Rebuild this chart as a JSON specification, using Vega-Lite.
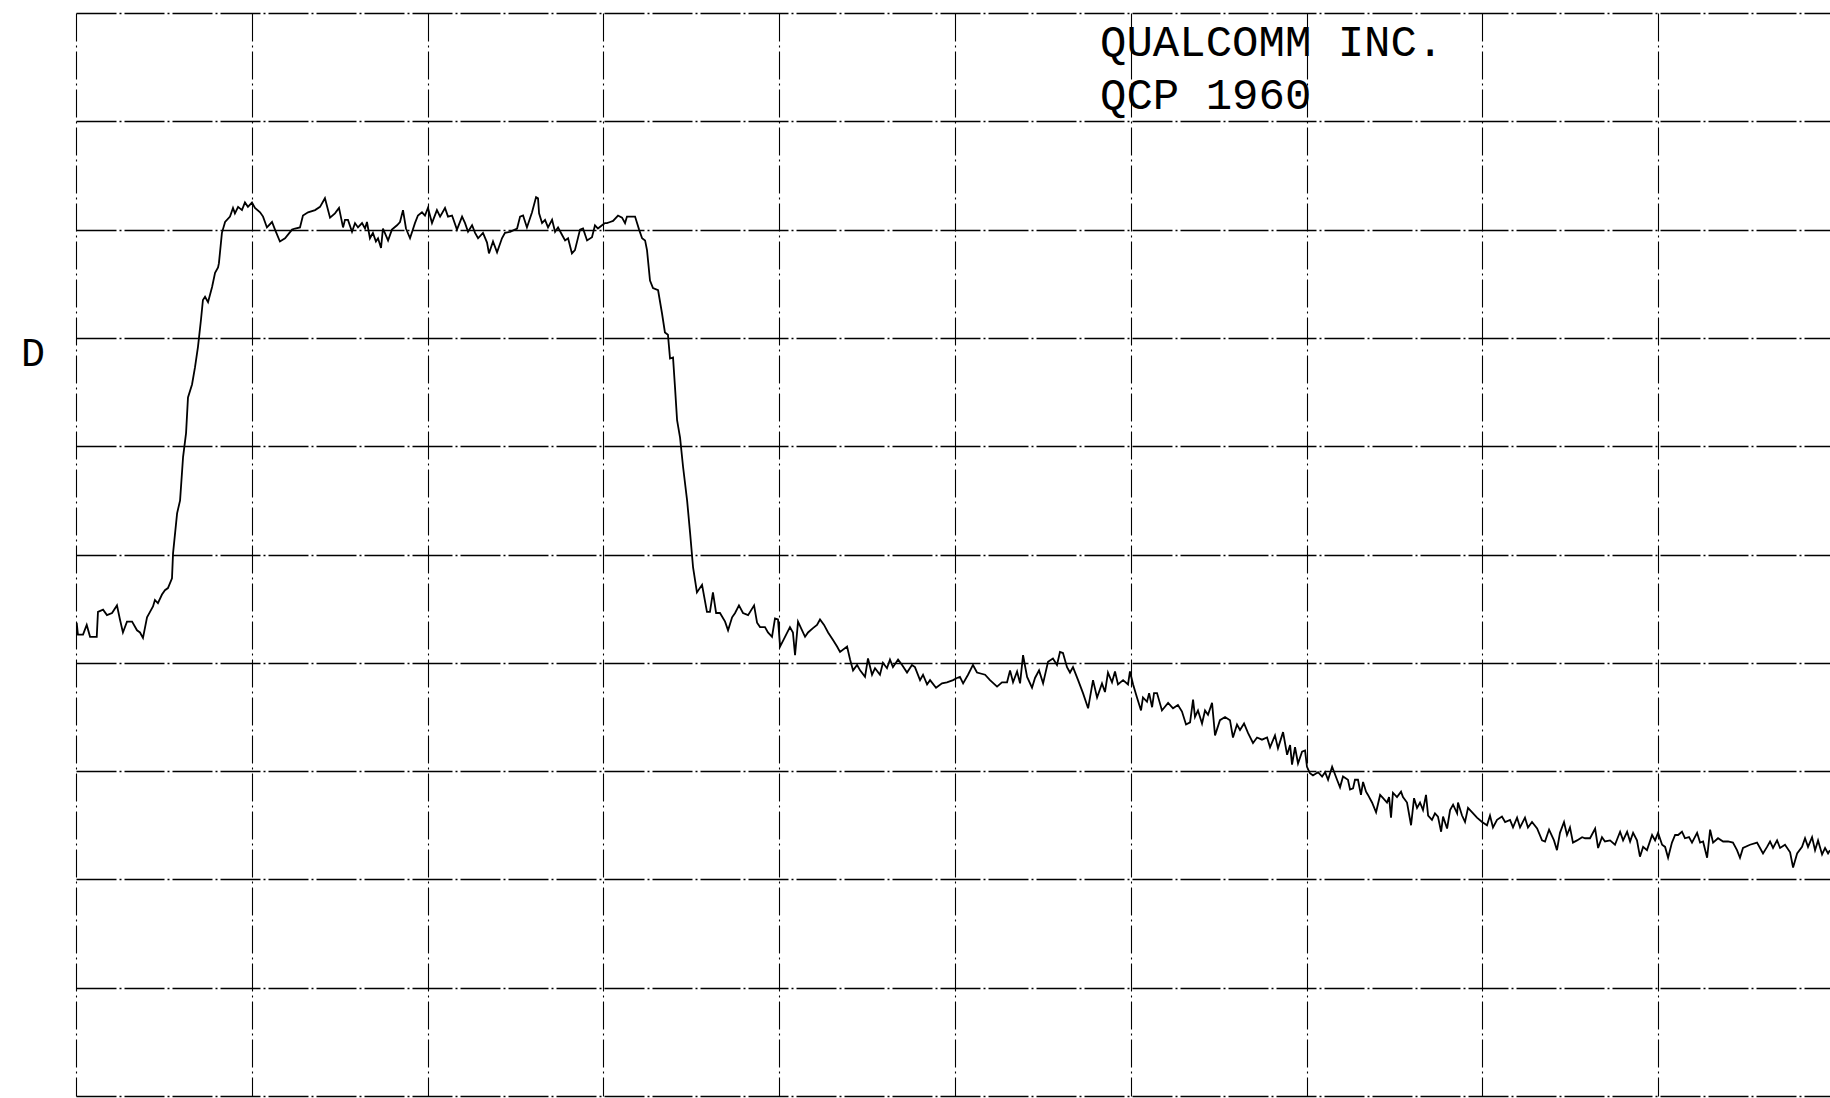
{
"$schema": "https://vega.github.io/schema/vega-lite/v6.json",
"width": 1754,
"height": 1083,
"autosize": {"type": "none"},
"padding": {"left": 76, "top": 13, "right": 0, "bottom": 2},
"background": "white",
"config": {"view": {"stroke": null}},
"datasets": {
"trace": [
{"f":0.004,"d":-56.3},{"f":0.011,"d":-57.4},{"f":0.040,"d":-57.4},{"f":0.061,"d":-56.5},{"f":0.080,"d":-57.6},{"f":0.118,"d":-57.6},{"f":0.125,"d":-55.3},{"f":0.154,"d":-55.1},{"f":0.176,"d":-55.6},{"f":0.205,"d":-55.4},
{"f":0.233,"d":-54.7},{"f":0.250,"d":-56.0},{"f":0.267,"d":-57.2},{"f":0.290,"d":-56.2},{"f":0.319,"d":-56.2},{"f":0.347,"d":-57.0},{"f":0.364,"d":-57.2},{"f":0.381,"d":-57.7},{"f":0.404,"d":-55.8},{"f":0.421,"d":-55.3},
{"f":0.438,"d":-54.8},{"f":0.449,"d":-54.2},{"f":0.466,"d":-54.5},{"f":0.489,"d":-53.7},{"f":0.506,"d":-53.3},{"f":0.523,"d":-53.1},{"f":0.546,"d":-52.2},{"f":0.552,"d":-49.9},{"f":0.575,"d":-46.2},{"f":0.592,"d":-45.0},
{"f":0.609,"d":-41.0},{"f":0.626,"d":-38.8},{"f":0.637,"d":-35.5},{"f":0.660,"d":-34.3},{"f":0.677,"d":-32.7},{"f":0.694,"d":-30.8},{"f":0.711,"d":-28.3},{"f":0.722,"d":-26.5},{"f":0.734,"d":-26.2},{"f":0.751,"d":-26.7},
{"f":0.774,"d":-25.3},{"f":0.791,"d":-24.0},{"f":0.808,"d":-23.5},{"f":0.813,"d":-23.1},{"f":0.830,"d":-20.3},{"f":0.848,"d":-19.3},{"f":0.876,"d":-18.8},{"f":0.893,"d":-18.0},{"f":0.904,"d":-18.5},{"f":0.922,"d":-17.9},
{"f":0.944,"d":-18.2},{"f":0.961,"d":-17.5},{"f":0.978,"d":-17.9},{"f":1.001,"d":-17.5},{"f":1.018,"d":-18.0},{"f":1.047,"d":-18.4},{"f":1.064,"d":-18.8},{"f":1.086,"d":-19.8},{"f":1.115,"d":-19.3},{"f":1.132,"d":-20.0},
{"f":1.160,"d":-21.1},{"f":1.189,"d":-20.8},{"f":1.229,"d":-20.0},{"f":1.246,"d":-19.9},{"f":1.274,"d":-19.8},{"f":1.291,"d":-18.7},{"f":1.320,"d":-18.4},{"f":1.360,"d":-18.2},{"f":1.388,"d":-17.9},{"f":1.416,"d":-17.1},
{"f":1.445,"d":-18.9},{"f":1.473,"d":-18.5},{"f":1.496,"d":-18.0},{"f":1.519,"d":-19.8},{"f":1.530,"d":-19.1},{"f":1.547,"d":-19.1},{"f":1.570,"d":-20.2},{"f":1.587,"d":-19.4},{"f":1.604,"d":-19.8},{"f":1.627,"d":-19.4},
{"f":1.644,"d":-19.9},{"f":1.655,"d":-19.3},{"f":1.672,"d":-20.8},{"f":1.689,"d":-20.3},{"f":1.706,"d":-21.1},{"f":1.718,"d":-20.8},{"f":1.735,"d":-21.7},{"f":1.746,"d":-19.9},{"f":1.775,"d":-21.0},{"f":1.797,"d":-20.0},
{"f":1.826,"d":-19.6},{"f":1.843,"d":-19.3},{"f":1.860,"d":-18.2},{"f":1.877,"d":-19.9},{"f":1.900,"d":-20.8},{"f":1.928,"d":-19.4},{"f":1.945,"d":-18.7},{"f":1.968,"d":-18.4},{"f":1.985,"d":-18.7},{"f":2.002,"d":-18.0},
{"f":2.025,"d":-19.4},{"f":2.053,"d":-18.2},{"f":2.071,"d":-18.8},{"f":2.099,"d":-18.0},{"f":2.116,"d":-18.8},{"f":2.139,"d":-18.7},{"f":2.167,"d":-20.0},{"f":2.196,"d":-18.8},{"f":2.213,"d":-19.4},{"f":2.230,"d":-20.2},
{"f":2.253,"d":-19.6},{"f":2.270,"d":-20.3},{"f":2.287,"d":-20.8},{"f":2.315,"d":-20.3},{"f":2.338,"d":-21.2},{"f":2.349,"d":-22.2},{"f":2.372,"d":-21.1},{"f":2.395,"d":-22.1},{"f":2.423,"d":-20.8},{"f":2.440,"d":-20.3},
{"f":2.469,"d":-20.2},{"f":2.509,"d":-19.9},{"f":2.526,"d":-18.8},{"f":2.543,"d":-18.7},{"f":2.565,"d":-19.8},{"f":2.594,"d":-18.4},{"f":2.617,"d":-17.0},{"f":2.628,"d":-17.1},{"f":2.634,"d":-18.5},{"f":2.651,"d":-19.4},
{"f":2.668,"d":-19.1},{"f":2.685,"d":-19.8},{"f":2.708,"d":-19.1},{"f":2.725,"d":-20.2},{"f":2.742,"d":-19.8},{"f":2.765,"d":-20.5},{"f":2.782,"d":-21.0},{"f":2.799,"d":-20.8},{"f":2.821,"d":-22.2},{"f":2.838,"d":-21.9},
{"f":2.867,"d":-20.0},{"f":2.884,"d":-19.9},{"f":2.907,"d":-21.0},{"f":2.935,"d":-20.7},{"f":2.952,"d":-19.6},{"f":2.969,"d":-19.9},{"f":2.992,"d":-19.6},{"f":3.009,"d":-19.4},{"f":3.020,"d":-19.4},{"f":3.038,"d":-19.3},
{"f":3.055,"d":-19.2},{"f":3.083,"d":-18.7},{"f":3.106,"d":-18.9},{"f":3.123,"d":-19.4},{"f":3.134,"d":-18.8},{"f":3.151,"d":-18.8},{"f":3.180,"d":-18.8},{"f":3.203,"d":-20.0},{"f":3.220,"d":-20.8},{"f":3.237,"d":-21.0},
{"f":3.248,"d":-21.9},{"f":3.265,"d":-24.7},{"f":3.282,"d":-25.4},{"f":3.311,"d":-25.6},{"f":3.333,"d":-27.7},{"f":3.350,"d":-29.5},{"f":3.367,"d":-29.7},{"f":3.379,"d":-31.9},{"f":3.396,"d":-31.8},{"f":3.407,"d":-34.5},
{"f":3.419,"d":-37.6},{"f":3.436,"d":-39.2},{"f":3.453,"d":-41.9},{"f":3.476,"d":-45.0},{"f":3.493,"d":-48.0},{"f":3.510,"d":-51.2},{"f":3.532,"d":-53.5},{"f":3.561,"d":-52.8},{"f":3.589,"d":-55.3},{"f":3.606,"d":-55.3},
{"f":3.623,"d":-53.5},{"f":3.641,"d":-55.4},{"f":3.663,"d":-55.4},{"f":3.692,"d":-56.2},{"f":3.709,"d":-57.0},{"f":3.732,"d":-55.8},{"f":3.749,"d":-55.4},{"f":3.771,"d":-54.7},{"f":3.794,"d":-55.4},{"f":3.823,"d":-55.6},
{"f":3.857,"d":-54.7},{"f":3.874,"d":-56.3},{"f":3.891,"d":-56.7},{"f":3.919,"d":-56.7},{"f":3.936,"d":-57.2},{"f":3.959,"d":-57.6},{"f":3.976,"d":-55.9},{"f":3.993,"d":-56.0},{"f":4.005,"d":-58.5},{"f":4.033,"d":-57.6},
{"f":4.061,"d":-56.7},{"f":4.078,"d":-57.2},{"f":4.090,"d":-59.3},{"f":4.107,"d":-56.2},{"f":4.130,"d":-57.0},{"f":4.147,"d":-57.6},{"f":4.164,"d":-57.2},{"f":4.192,"d":-56.8},{"f":4.215,"d":-56.5},{"f":4.232,"d":-56.0},
{"f":4.255,"d":-56.5},{"f":4.278,"d":-57.2},{"f":4.306,"d":-57.9},{"f":4.329,"d":-58.5},{"f":4.346,"d":-59.0},{"f":4.386,"d":-58.5},{"f":4.403,"d":-59.7},{"f":4.420,"d":-60.7},{"f":4.443,"d":-60.2},{"f":4.460,"d":-60.7},
{"f":4.488,"d":-61.3},{"f":4.505,"d":-59.6},{"f":4.528,"d":-61.1},{"f":4.545,"d":-60.5},{"f":4.573,"d":-61.1},{"f":4.590,"d":-60.0},{"f":4.613,"d":-60.5},{"f":4.630,"d":-59.7},{"f":4.647,"d":-60.4},{"f":4.676,"d":-59.7},
{"f":4.699,"d":-60.2},{"f":4.727,"d":-60.9},{"f":4.755,"d":-60.2},{"f":4.772,"d":-60.4},{"f":4.801,"d":-61.6},{"f":4.818,"d":-61.1},{"f":4.841,"d":-62.0},{"f":4.858,"d":-61.6},{"f":4.892,"d":-62.3},{"f":4.926,"d":-61.9},
{"f":4.954,"d":-61.8},{"f":4.989,"d":-61.6},{"f":5.011,"d":-61.4},{"f":5.028,"d":-61.3},{"f":5.046,"d":-61.9},{"f":5.074,"d":-61.1},{"f":5.102,"d":-60.2},{"f":5.125,"d":-60.9},{"f":5.171,"d":-61.1},{"f":5.199,"d":-61.6},
{"f":5.239,"d":-62.2},{"f":5.267,"d":-61.8},{"f":5.296,"d":-61.8},{"f":5.313,"d":-60.7},{"f":5.330,"d":-61.8},{"f":5.353,"d":-60.8},{"f":5.370,"d":-61.9},{"f":5.387,"d":-59.3},{"f":5.410,"d":-61.3},{"f":5.438,"d":-62.3},
{"f":5.455,"d":-61.4},{"f":5.478,"d":-60.7},{"f":5.501,"d":-61.9},{"f":5.529,"d":-59.9},{"f":5.557,"d":-59.6},{"f":5.580,"d":-60.2},{"f":5.597,"d":-59.0},{"f":5.614,"d":-59.1},{"f":5.637,"d":-60.4},{"f":5.654,"d":-60.9},
{"f":5.671,"d":-60.4},{"f":5.700,"d":-61.6},{"f":5.728,"d":-62.8},{"f":5.757,"d":-64.2},{"f":5.785,"d":-61.6},{"f":5.808,"d":-63.2},{"f":5.836,"d":-61.9},{"f":5.853,"d":-62.7},{"f":5.870,"d":-60.9},{"f":5.893,"d":-61.8},
{"f":5.910,"d":-60.8},{"f":5.927,"d":-62.0},{"f":5.956,"d":-61.6},{"f":5.984,"d":-62.0},{"f":5.995,"d":-60.8},{"f":6.013,"d":-62.0},{"f":6.035,"d":-63.2},{"f":6.058,"d":-64.4},{"f":6.069,"d":-63.2},{"f":6.092,"d":-63.6},
{"f":6.104,"d":-62.8},{"f":6.121,"d":-64.1},{"f":6.132,"d":-62.8},{"f":6.149,"d":-62.8},{"f":6.177,"d":-64.4},{"f":6.212,"d":-63.7},{"f":6.240,"d":-64.2},{"f":6.268,"d":-63.9},{"f":6.291,"d":-64.5},{"f":6.314,"d":-65.7},
{"f":6.337,"d":-65.5},{"f":6.354,"d":-63.4},{"f":6.365,"d":-65.0},{"f":6.382,"d":-64.4},{"f":6.405,"d":-65.6},{"f":6.422,"d":-64.4},{"f":6.439,"d":-64.8},{"f":6.462,"d":-63.7},{"f":6.479,"d":-66.7},{"f":6.507,"d":-65.3},
{"f":6.536,"d":-65.0},{"f":6.564,"d":-65.3},{"f":6.581,"d":-66.9},{"f":6.604,"d":-65.7},{"f":6.621,"d":-66.2},{"f":6.644,"d":-65.6},{"f":6.667,"d":-66.5},{"f":6.695,"d":-67.4},{"f":6.718,"d":-66.9},{"f":6.746,"d":-67.1},
{"f":6.775,"d":-66.9},{"f":6.792,"d":-67.8},{"f":6.820,"d":-66.7},{"f":6.837,"d":-67.9},{"f":6.866,"d":-66.4},{"f":6.889,"d":-68.5},{"f":6.906,"d":-67.6},{"f":6.917,"d":-69.4},{"f":6.934,"d":-67.8},{"f":6.951,"d":-69.3},
{"f":6.974,"d":-68.2},{"f":6.991,"d":-68.1},{"f":7.002,"d":-69.6},{"f":7.019,"d":-70.2},{"f":7.036,"d":-70.4},{"f":7.065,"d":-70.1},{"f":7.088,"d":-70.5},{"f":7.105,"d":-70.1},{"f":7.122,"d":-70.8},{"f":7.145,"d":-69.6},
{"f":7.173,"d":-70.8},{"f":7.190,"d":-71.5},{"f":7.207,"d":-70.5},{"f":7.235,"d":-70.8},{"f":7.247,"d":-71.7},{"f":7.264,"d":-71.6},{"f":7.275,"d":-70.8},{"f":7.292,"d":-70.8},{"f":7.309,"d":-72.2},{"f":7.321,"d":-71.0},
{"f":7.338,"d":-71.9},{"f":7.349,"d":-72.2},{"f":7.372,"d":-72.9},{"f":7.395,"d":-73.8},{"f":7.418,"d":-72.2},{"f":7.435,"d":-72.5},{"f":7.457,"d":-72.9},{"f":7.469,"d":-72.4},{"f":7.480,"d":-74.3},{"f":7.491,"d":-72.0},
{"f":7.514,"d":-72.4},{"f":7.537,"d":-71.9},{"f":7.548,"d":-72.4},{"f":7.571,"d":-72.9},{"f":7.594,"d":-75.0},{"f":7.611,"d":-72.5},{"f":7.628,"d":-73.4},{"f":7.645,"d":-72.9},{"f":7.662,"d":-73.6},{"f":7.679,"d":-72.2},
{"f":7.691,"d":-74.1},{"f":7.713,"d":-74.5},{"f":7.730,"d":-73.9},{"f":7.747,"d":-74.2},{"f":7.765,"d":-75.6},{"f":7.776,"d":-74.2},{"f":7.799,"d":-75.3},{"f":7.816,"d":-73.6},{"f":7.833,"d":-73.1},{"f":7.856,"d":-73.9},
{"f":7.861,"d":-72.9},{"f":7.884,"d":-74.1},{"f":7.901,"d":-74.7},{"f":7.918,"d":-73.4},{"f":7.947,"d":-73.9},{"f":7.969,"d":-74.3},{"f":7.998,"d":-74.7},{"f":8.026,"d":-75.0},{"f":8.043,"d":-74.1},{"f":8.060,"d":-75.2},
{"f":8.083,"d":-74.5},{"f":8.111,"d":-74.2},{"f":8.129,"d":-74.7},{"f":8.157,"d":-74.5},{"f":8.174,"d":-75.2},{"f":8.197,"d":-74.3},{"f":8.214,"d":-75.2},{"f":8.242,"d":-74.3},{"f":8.259,"d":-75.2},{"f":8.282,"d":-74.7},
{"f":8.311,"d":-75.3},{"f":8.339,"d":-76.4},{"f":8.356,"d":-76.5},{"f":8.379,"d":-75.4},{"f":8.407,"d":-76.4},{"f":8.424,"d":-77.3},{"f":8.441,"d":-75.7},{"f":8.464,"d":-74.7},{"f":8.481,"d":-75.9},{"f":8.498,"d":-75.2},
{"f":8.515,"d":-76.6},{"f":8.538,"d":-76.4},{"f":8.567,"d":-76.1},{"f":8.584,"d":-76.2},{"f":8.612,"d":-76.2},{"f":8.641,"d":-75.3},{"f":8.658,"d":-77.1},{"f":8.680,"d":-76.1},{"f":8.697,"d":-76.5},{"f":8.726,"d":-76.4},
{"f":8.754,"d":-76.8},{"f":8.783,"d":-75.6},{"f":8.800,"d":-76.4},{"f":8.823,"d":-75.6},{"f":8.840,"d":-76.5},{"f":8.857,"d":-75.7},{"f":8.879,"d":-76.4},{"f":8.896,"d":-77.9},{"f":8.914,"d":-77.0},{"f":8.936,"d":-77.3},
{"f":8.965,"d":-75.9},{"f":8.982,"d":-76.4},{"f":8.999,"d":-75.7},{"f":9.022,"d":-76.8},{"f":9.039,"d":-77.0},{"f":9.056,"d":-78.0},{"f":9.078,"d":-76.6},{"f":9.096,"d":-75.9},{"f":9.113,"d":-75.9},{"f":9.135,"d":-75.6},
{"f":9.152,"d":-76.2},{"f":9.175,"d":-76.1},{"f":9.192,"d":-76.6},{"f":9.221,"d":-75.7},{"f":9.238,"d":-76.6},{"f":9.255,"d":-76.5},{"f":9.278,"d":-78.0},{"f":9.295,"d":-75.4},{"f":9.312,"d":-76.6},{"f":9.340,"d":-76.2},
{"f":9.369,"d":-76.5},{"f":9.397,"d":-76.5},{"f":9.425,"d":-76.6},{"f":9.448,"d":-77.3},{"f":9.465,"d":-78.0},{"f":9.482,"d":-77.1},{"f":9.522,"d":-76.8},{"f":9.562,"d":-76.6},{"f":9.579,"d":-77.1},{"f":9.596,"d":-77.6},
{"f":9.619,"d":-77.0},{"f":9.636,"d":-76.5},{"f":9.653,"d":-77.1},{"f":9.676,"d":-76.4},{"f":9.693,"d":-77.1},{"f":9.721,"d":-76.8},{"f":9.750,"d":-77.5},{"f":9.767,"d":-78.9},{"f":9.790,"d":-77.6},{"f":9.818,"d":-77.0},
{"f":9.835,"d":-76.2},{"f":9.852,"d":-77.0},{"f":9.875,"d":-76.1},{"f":9.892,"d":-77.3},{"f":9.909,"d":-76.4},{"f":9.932,"d":-77.7},{"f":9.949,"d":-77.1},{"f":9.966,"d":-77.6},{"f":9.977,"d":-77.3}
],
"notes": [
{"f":5.825,"d":-4.0,"label":"QUALCOMM INC."},
{"f":5.825,"d":-8.9,"label":"QCP 1960"}
],
"marker": [
{"f":-0.245,"d":-31.5,"label":"D"}
]
},
"layer": [
{
"data": {"name": "trace"},
"mark": {"type": "line", "color": "black", "strokeWidth": 1.8, "clip": true},
"encoding": {
"x": {"field": "f", "type": "quantitative",
"scale": {"domain": [0, 9.977], "nice": false, "zero": false},
"axis": {"values": [0,1,2,3,4,5,6,7,8,9], "grid": true, "labels": false, "ticks": false, "domain": false, "title": null,
"gridColor": "black", "gridOpacity": 1, "gridWidth": 1.1, "gridDash": [28, 4, 2, 4]}},
"y": {"field": "d", "type": "quantitative",
"scale": {"domain": [-100, 0], "nice": false, "zero": false},
"axis": {"values": [-100,-90,-80,-70,-60,-50,-40,-30,-20,-10,0], "grid": true, "labels": false, "ticks": false, "domain": false, "title": null,
"gridColor": "black", "gridOpacity": 1, "gridWidth": 1.3, "gridDash": [40, 3, 2, 3]}}
}
},
{
"data": {"name": "notes"},
"mark": {"type": "text", "font": "Liberation Mono", "fontSize": 44, "align": "left", "baseline": "alphabetic", "color": "black"},
"encoding": {
"x": {"field": "f", "type": "quantitative"},
"y": {"field": "d", "type": "quantitative"},
"text": {"field": "label"}
}
},
{
"data": {"name": "marker"},
"mark": {"type": "text", "font": "Liberation Mono", "fontSize": 40, "align": "center", "baseline": "middle", "color": "black"},
"encoding": {
"x": {"field": "f", "type": "quantitative"},
"y": {"field": "d", "type": "quantitative"},
"text": {"field": "label"}
}
}
]
}
